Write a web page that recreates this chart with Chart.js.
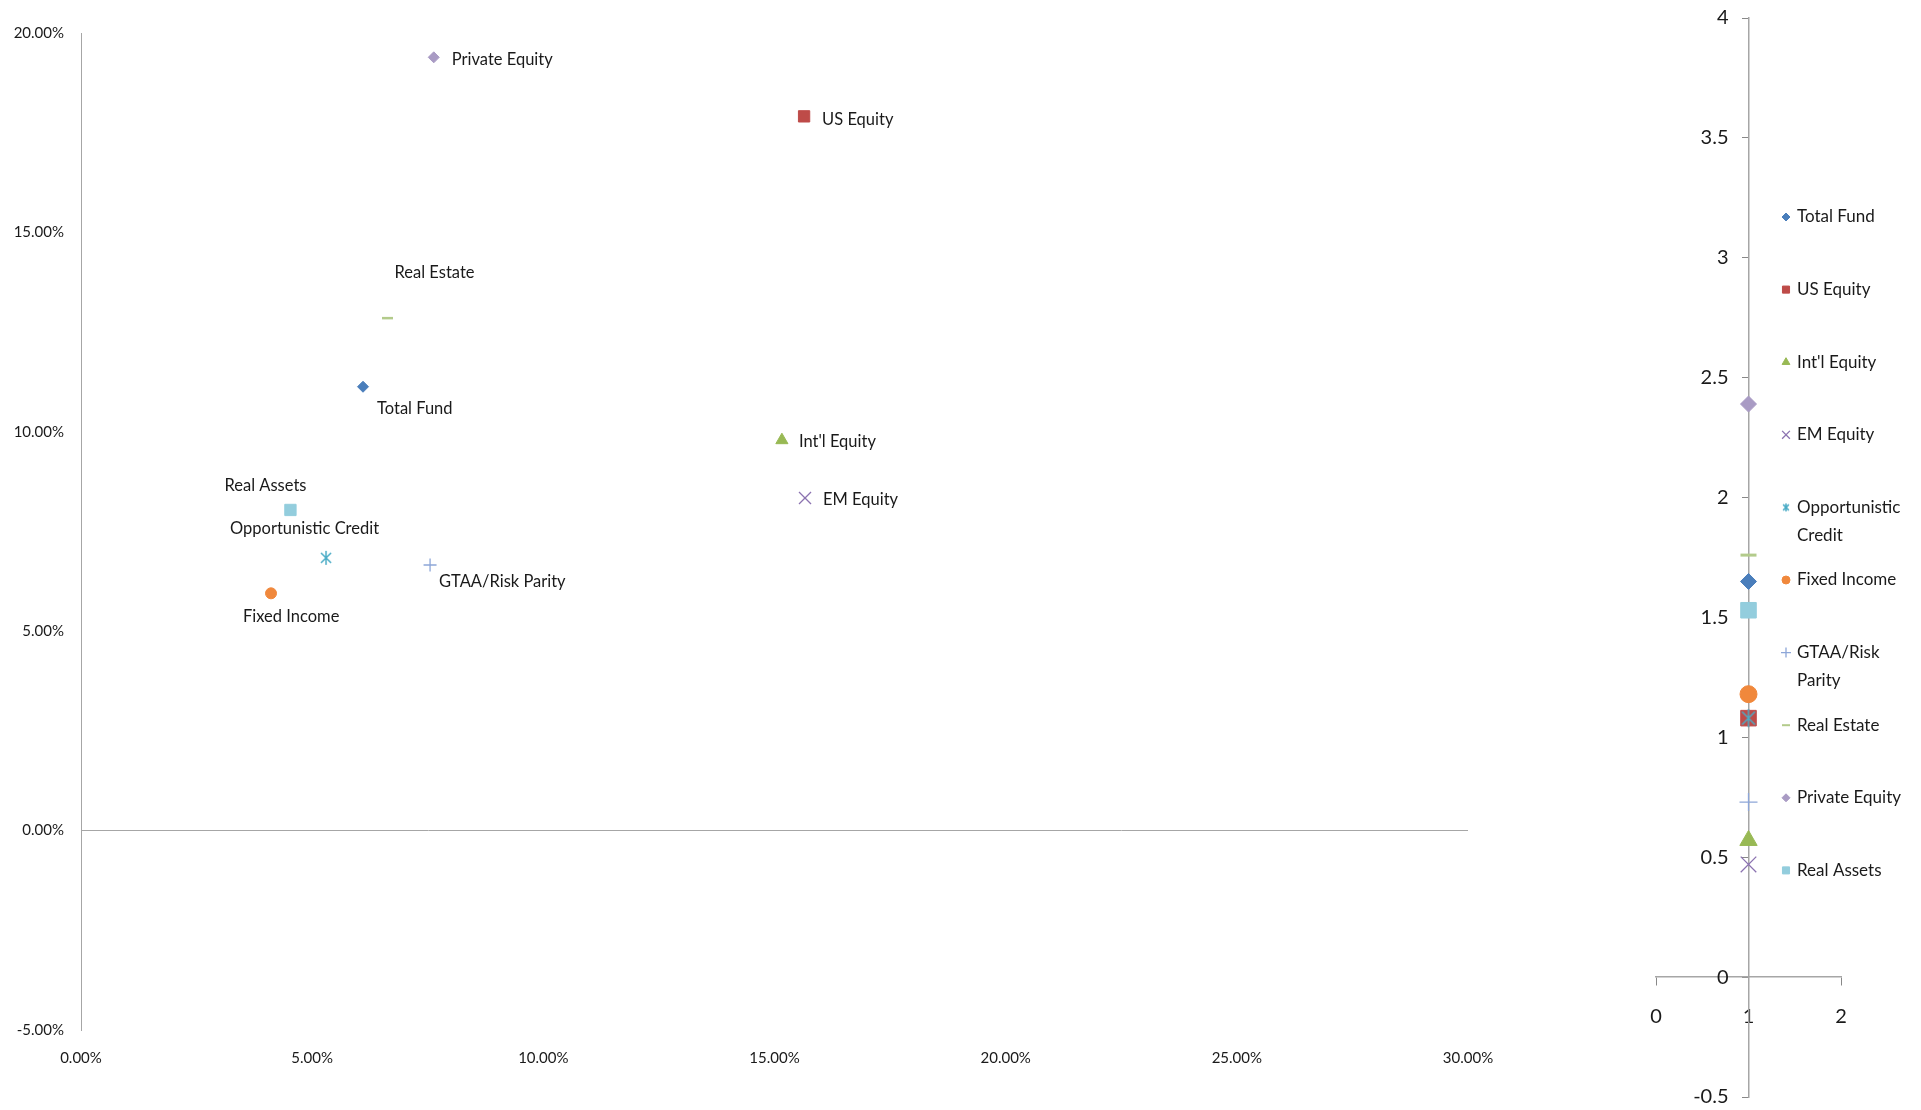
<!DOCTYPE html>
<html>
<head>
<meta charset="utf-8">
<script src="https://cdn.jsdelivr.net/npm/chart.js@4.4.1/dist/chart.umd.min.js"></script>
<style>
  html, body { margin: 0; background: #fff; overflow: hidden; }
  #wrap { position: relative; width: 1921px; height: 1110px; overflow: hidden; }
  #risk { position: absolute; left: 0; top: 0; }
  #ratio { position: absolute; left: 1560px; top: -3px; }
</style>
</head>
<body>
<div id="wrap">
  <canvas id="risk" width="1530" height="1110"></canvas>
  <canvas id="ratio" width="361" height="1121"></canvas>
</div>
<script>
var names = ['Total Fund', 'US Equity', "Int'l Equity", 'EM Equity', 'Opportunistic Credit',
             'Fixed Income', 'GTAA/Risk Parity', 'Real Estate', 'Private Equity', 'Real Assets'];
// standard deviation, %
var risk = [6.10, 15.64, 15.16, 15.66, 5.30, 4.11, 7.55, 6.63, 7.63, 4.53];
// annualized return, %
var returns = [11.13, 17.91, 9.79, 8.34, 6.84, 5.95, 6.66, 12.85, 19.39, 8.04];
// sharpe ratio
var sharpe = [1.65, 1.08, 0.57, 0.47, 1.08, 1.18, 0.73, 1.76, 2.39, 1.53];

var riskTicks = [0, 5, 10, 15, 20, 25, 30];
var returnTicks = [-5, 0, 5, 10, 15, 20];
var ratioTicks = [-0.5, 0, 0.5, 1, 1.5, 2, 2.5, 3, 3.5, 4];
var ratioXTicks = [0, 1, 2];

var FONT = 'Lato, "Open Sans", sans-serif';
var TEXT = '#1a1a1a';
var AXIS = '#a6a6a6';

var colors = ['#4A7EBB', '#BE4B48', '#98B954', '#8B72B0', '#4BACC6',
              '#F0883C', '#8DA6D8', '#B3CB8B', '#A99BC4', '#93CDDD'];
var shapes = ['rectRot', 'rect', 'triangle', 'crossRot', 'asterisk',
              'circle', 'cross', 'line', 'rectRot', 'rect'];

// marker radius per shape: main plot, ratio plot, legend
var radius = {
  rectRot:  [5.5, 8, 4],
  rect:     [8, 11, 5],
  triangle: [7, 10, 4.5],
  crossRot: [8.5, 11, 5.5],
  asterisk: [16, 20, 10],
  circle:   [5.5, 8.5, 4],
  cross:    [6.5, 9, 5],
  line:     [5.5, 8, 4]
};

// Excel style star marker: an x with a vertical stroke
function asterisk(size, color) {
  var c = document.createElement('canvas');
  c.width = size; c.height = size;
  var g = c.getContext('2d');
  var m = size / 2, r = size / 2 - 1, d = r * 0.72;
  g.strokeStyle = color;
  g.lineWidth = 1.5;
  g.beginPath();
  g.moveTo(m - d, m - d); g.lineTo(m + d, m + d);
  g.moveTo(m + d, m - d); g.lineTo(m - d, m + d);
  g.moveTo(m, m - r); g.lineTo(m, m + r);
  g.stroke();
  return c;
}

function styleFor(i, which) {
  var s = shapes[i];
  if (s === 'asterisk') return asterisk(radius.asterisk[which], colors[i]);
  return s;
}

function lineWidthFor(s) {
  if (s === 'line') return 2.5;
  if (s === 'cross' || s === 'crossRot') return 1.3;
  return 1;
}

// label position relative to the marker (left edge, middle)
var labelShift = [
  [14, 22], [18, 3], [17, 1], [18, 2], [-96, -29],
  [-28, 23], [9, 17], [7, -45], [18, 2], [-66, -24]
];

function fixedTicks(list) {
  return function (scale) {
    scale.ticks = list.map(function (v) { return { value: v }; });
  };
}

var pointLabels = {
  id: 'pointLabels',
  afterDatasetsDraw: function (chart) {
    var ctx = chart.ctx;
    ctx.save();
    ctx.font = '16.5px ' + FONT;
    ctx.fillStyle = TEXT;
    ctx.textBaseline = 'middle';
    ctx.textAlign = 'left';
    chart.data.datasets.forEach(function (ds, i) {
      var pt = chart.getDatasetMeta(i).data[0];
      ctx.fillText(ds.label, pt.x + labelShift[i][0], pt.y + labelShift[i][1]);
    });
    ctx.restore();
  }
};

var riskSets = names.map(function (n, i) {
  var s = shapes[i];
  return {
    label: n,
    data: [{ x: risk[i], y: returns[i] }],
    pointStyle: styleFor(i, 0),
    pointRadius: radius[s][0],
    pointBackgroundColor: colors[i],
    pointBorderColor: colors[i],
    pointBorderWidth: lineWidthFor(s),
    order: names.length - i
  };
});

new Chart(document.getElementById('risk'), {
  type: 'scatter',
  data: { datasets: riskSets },
  options: {
    responsive: false,
    animation: false,
    layout: { padding: { top: 33, right: 62, bottom: 0, left: 0 } },
    plugins: { legend: { display: false }, tooltip: { enabled: false } },
    scales: {
      x: {
        min: 0, max: 30,
        afterBuildTicks: fixedTicks(riskTicks),
        afterFit: function (s) { s.height = 80; },
        grid: { display: false },
        border: { display: false },
        ticks: {
          padding: 11,
          color: TEXT,
          font: { family: FONT, size: 15 },
          callback: function (v) { return v.toFixed(2) + '%'; }
        }
      },
      y: {
        min: -5, max: 20,
        afterBuildTicks: fixedTicks(returnTicks),
        afterFit: function (s) { s.width = 81; },
        grid: {
          drawTicks: false,
          color: function (c) { return c.tick && c.tick.value === 0 ? AXIS : 'rgba(0,0,0,0)'; }
        },
        border: { display: true, color: AXIS, width: 1 },
        ticks: {
          padding: 17,
          color: TEXT,
          font: { family: FONT, size: 15 },
          callback: function (v) { return v.toFixed(2) + '%'; }
        }
      }
    }
  },
  plugins: [pointLabels]
});

// legend drawn over the right side of the ratio plot
var sideLegend = {
  id: 'sideLegend',
  afterDraw: function (chart) {
    var ctx = chart.ctx;
    var markX = 226, textX = 237, top = 220, step = 72.6, maxW = 120;
    ctx.save();
    ctx.font = '17px ' + FONT;
    ctx.textBaseline = 'middle';
    ctx.textAlign = 'left';
    names.forEach(function (n, i) {
      var y = top + i * step;
      var s = shapes[i];
      ctx.fillStyle = colors[i];
      ctx.strokeStyle = colors[i];
      ctx.lineWidth = lineWidthFor(s) === 2.5 ? 2 : lineWidthFor(s);
      Chart.helpers.drawPoint(ctx, {
        pointStyle: styleFor(i, 2), radius: radius[s][2], rotation: 0,
        borderWidth: ctx.lineWidth
      }, markX, y);
      // simple word wrap
      var words = n.split(' '), lines = [], cur = '';
      words.forEach(function (w) {
        var t = cur ? cur + ' ' + w : w;
        if (cur && ctx.measureText(t).width > maxW) { lines.push(cur); cur = w; }
        else cur = t;
      });
      lines.push(cur);
      ctx.fillStyle = TEXT;
      lines.forEach(function (l, k) { ctx.fillText(l, textX, y + k * 28); });
    });
    ctx.restore();
  }
};

var ratioSets = names.map(function (n, i) {
  var s = shapes[i];
  return {
    label: n,
    data: [{ x: 1, y: sharpe[i] }],
    pointStyle: styleFor(i, 1),
    pointRadius: radius[s][1],
    pointBackgroundColor: colors[i],
    pointBorderColor: colors[i],
    pointBorderWidth: lineWidthFor(s) === 2.5 ? 3 : lineWidthFor(s),
    order: names.length - i
  };
});

new Chart(document.getElementById('ratio'), {
  type: 'scatter',
  data: { datasets: ratioSets },
  options: {
    responsive: false,
    animation: false,
    layout: { padding: { top: 15, right: 80, bottom: 0, left: 96 } },
    plugins: { legend: { display: false }, tooltip: { enabled: false } },
    scales: {
      x: {
        min: 0, max: 2,
        position: { y: 0 },
        afterBuildTicks: fixedTicks(ratioXTicks),
        // axes cross inside the plot, so they take no layout room
        afterFit: function (s) { s.height = 0; },
        grid: { drawOnChartArea: false, tickLength: 8, color: '#888' },
        border: { display: true, color: AXIS, width: 1.5 },
        ticks: {
          padding: 19,
          color: TEXT,
          font: { family: FONT, size: 20 },
          callback: function (v) { return String(v); }
        }
      },
      y: {
        min: -0.5, max: 4,
        position: { x: 1 },
        afterBuildTicks: fixedTicks(ratioTicks),
        afterFit: function (s) { s.width = 0; },
        grid: { drawOnChartArea: false, tickLength: 6, color: '#888' },
        border: { display: true, color: AXIS, width: 1.5 },
        ticks: {
          color: TEXT,
          font: { family: FONT, size: 20 },
          // en spaces keep the labels clear of the axis line
          callback: function (v) { return String(v) + '\u2002\u2002'; }
        }
      }
    }
  },
  plugins: [sideLegend]
});
</script>
</body>
</html>
